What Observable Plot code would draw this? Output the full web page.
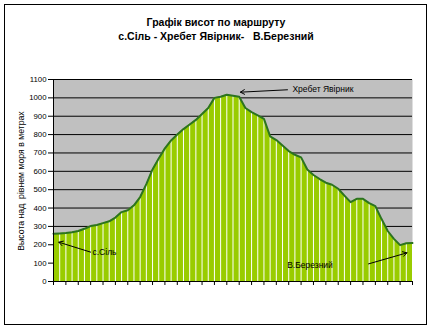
<!DOCTYPE html>
<html>
<head>
<meta charset="utf-8">
<script src="https://cdn.jsdelivr.net/npm/d3@7"></script>
<script src="https://cdn.jsdelivr.net/npm/@observablehq/plot@0.6"></script>
<style>
  html, body { margin: 0; padding: 0; background: #fff; }
  #wrap { position: relative; width: 432px; height: 329px; font-family: "Liberation Sans", Arial, sans-serif; }
  #border { position: absolute; left: 4px; top: 4px; width: 423px; height: 321px; border: 1px solid #000; box-sizing: border-box; pointer-events: none; }
  .title { position: absolute; left: 0; width: 432px; text-align: center; font-weight: bold; font-size: 10.5px; color: #000; white-space: pre; }
  #ylab { position: absolute; left: 21px; top: 181px; transform: translate(-50%, -50%) rotate(-90deg); font-size: 8.7px; white-space: pre; color: #000; }
  svg { position: absolute; left: 0; top: 0; }
</style>
</head>
<body>
<div id="wrap">
  <div class="title" style="top:16px">Графік висот по маршруту</div>
  <div class="title" style="top:30px">с.Сіль - Хребет Явірник-   В.Березний</div>
  <div id="ylab">Высота над  рівнем моря в метрах</div>
  <div id="border"></div>
</div>
<script>
// Elevation profile (m), one value per route point
const elevations = [260, 262, 264, 268, 275, 287, 302, 308, 318, 328,
  348, 378, 388, 415, 460, 530, 610, 670, 725, 768,
  800, 830, 855, 880, 912, 945, 1000, 1006, 1017, 1012,
  1006, 945, 922, 905, 886, 790, 770, 740, 710, 690,
  676, 610, 580, 558, 538, 527, 505, 468, 432, 450,
  450, 427, 410, 340, 275, 232, 198, 208, 210];
const yTicks = [0, 100, 200, 300, 400, 500, 600, 700, 800, 900, 1000, 1100];

// Annotations: label text, label anchor point, arrow start/end (index, elevation)
const labelNames = ["с.Сіль", "Хребет Явірник", "В.Березний"];
const labelX = [6.3, 38.6, 37.75];
const labelY = [158, 1049, 87];
const arrowX1 = [6.0, 37.8, 50.9];
const arrowY1 = [160, 1044, 96];
const arrowX2 = [0.86, 30.2, 57.1];
const arrowY2 = [214, 1031, 156];

const data = elevations.map((v, i) => ({i, v}));
const labels = labelNames.map((t, k) => ({t, x: labelX[k], y: labelY[k]}));
const arrows = arrowX1.map((x1, k) => ({x1, y1: arrowY1[k], x2: arrowX2[k], y2: arrowY2[k]}));

const n = elevations.length;
const chart = Plot.plot({
  width: 432,
  height: 329,
  marginLeft: 53,
  marginRight: 20,
  marginTop: 79,
  marginBottom: 48,
  style: {background: "transparent", fontFamily: "Liberation Sans, Arial, sans-serif", color: "#000"},
  x: {type: "linear", domain: [0, n - 1], axis: null},
  y: {domain: [0, 1100], axis: null},
  marks: [
    Plot.frame({fill: "#c0c0c0", stroke: null}),
    Plot.gridY(yTicks, {stroke: "#000", strokeOpacity: 1, strokeWidth: 1}),
    Plot.areaY(data, {x: "i", y: "v", fill: "#99cc00"}),
    Plot.ruleX(data, {x: "i", y1: 0, y2: "v", stroke: "#fff", strokeWidth: 1}),
    Plot.lineY(data, {x: "i", y: "v", stroke: "#2c7420", strokeWidth: 2}),
    Plot.ruleY([0], {stroke: "#000"}),
    Plot.ruleX([0], {stroke: "#000"}),
    Plot.axisY({ticks: yTicks, tickSize: 5, tickPadding: 2, fontSize: 7.8, label: null, tickFormat: d => String(d)}),
    Plot.axisX({ticks: d3.range(0, n, 2), tickSize: 4, tickFormat: () => "", label: null}),
    Plot.arrow(arrows, {x1: "x1", y1: "y1", x2: "x2", y2: "y2", stroke: "#000", strokeWidth: 1, headLength: 7}),
    Plot.text(labels, {x: "x", y: "y", text: "t", textAnchor: "start", fontSize: 8.5, fill: "#000"})
  ]
});
document.getElementById("wrap").prepend(chart);
</script>
</body>
</html>
